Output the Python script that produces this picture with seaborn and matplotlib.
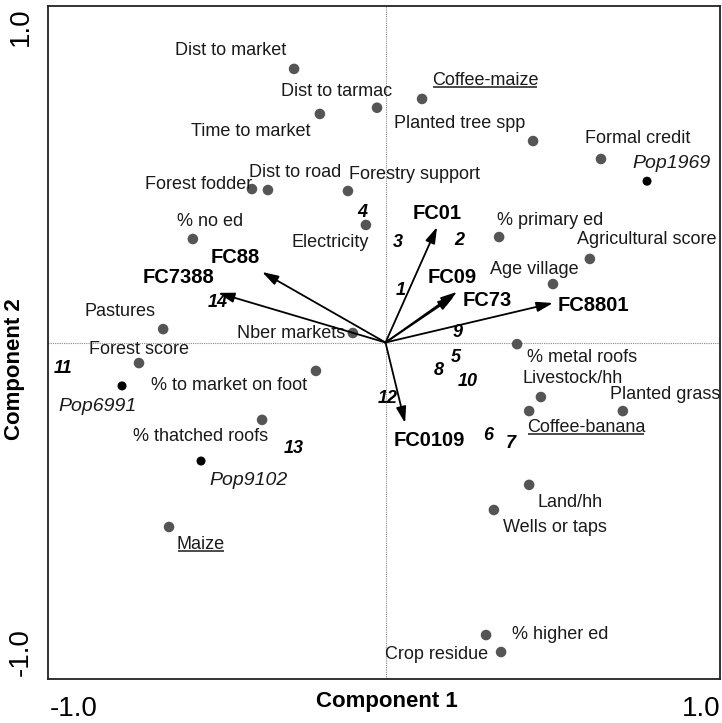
import numpy as np
import pandas as pd
import matplotlib
matplotlib.use("Agg")
import matplotlib.pyplot as plt
from matplotlib.transforms import ScaledTranslation
import seaborn as sns

# Variable loadings on the first two components
var_names = ["Dist to market", "Dist to tarmac", "Time to market", "Coffee-maize",
             "Planted tree spp", "Formal credit", "Forest fodder", "Dist to road",
             "Forestry support", "Electricity", "% no ed", "% primary ed",
             "Agricultural score", "Age village", "Pastures", "Nber markets",
             "Forest score", "% metal roofs", "% to market on foot", "Livestock/hh",
             "Coffee-banana", "Planted grass", "% thatched roofs", "Land/hh",
             "Wells or taps", "Maize", "Crop residue", "% higher ed"]
var_x = [-0.280, -0.026, -0.201, 0.112, 0.452, 0.660, -0.409, -0.360, -0.115, -0.060,
         -0.590, 0.348, 0.626, 0.513, -0.681, -0.100, -0.755, 0.403, -0.213, 0.476,
         0.440, 0.727, -0.378, 0.440, 0.332, -0.663, 0.308, 0.354]
var_y = [0.838, 0.719, 0.700, 0.746, 0.617, 0.562, 0.470, 0.467, 0.464, 0.360,
         0.317, 0.323, 0.256, 0.179, 0.041, 0.029, -0.063, -0.005, -0.087, -0.167,
         -0.210, -0.210, -0.237, -0.436, -0.513, -0.565, -0.896, -0.948]
farm_types = ["Coffee-maize", "Coffee-banana", "Maize"]

# Population-density period centroids
pop_names = ["Pop1969", "Pop6991", "Pop9102"]
pop_x = [0.801, -0.807, -0.565]
pop_y = [0.494, -0.133, -0.363]

# Forest-cover change vectors
fc_names = ["FC01", "FC88", "FC7388", "FC09", "FC73", "FC8801", "FC0109"]
fc_x = [0.158, -0.378, -0.513, 0.219, 0.210, 0.513, 0.060]
fc_y = [0.354, 0.216, 0.152, 0.155, 0.142, 0.121, -0.247]

# Site scores
site_labels = ["1", "2", "3", "4", "5", "6", "7", "8", "9", "10", "11", "12", "13", "14"]
site_x = [0.047, 0.225, 0.038, -0.072, 0.216, 0.314, 0.384, 0.164, 0.222, 0.253,
          -0.988, 0.008, -0.280, -0.513]
site_y = [0.158, 0.311, 0.305, 0.397, -0.047, -0.286, -0.308, -0.087, 0.032, -0.118,
          -0.081, -0.173, -0.326, 0.124]

# Label offsets in pixels (dx, dy upward) from each mark
var_off = {
    "Dist to market": (-63, 18), "Dist to tarmac": (-40, 16), "Time to market": (-69, -18),
    "Coffee-maize": (63, 18), "Planted tree spp": (-73, 18), "Formal credit": (37, 21),
    "Forest fodder": (-53, 5), "Dist to road": (27, 18), "Forestry support": (67, 16),
    "Electricity": (-36, -18), "% no ed": (17, 17), "% primary ed": (51, 17),
    "Agricultural score": (57, 19), "Age village": (-19, 15), "Pastures": (-43, 18),
    "Nber markets": (-62, 0), "Forest score": (0, 14), "% metal roofs": (65, -13),
    "% to market on foot": (-87, -15), "Livestock/hh": (32, 19), "Coffee-banana": (57, -16),
    "Planted grass": (42, 17), "% thatched roofs": (-62, -17), "Land/hh": (41, -18),
    "Wells or taps": (61, -18), "Maize": (32, -18), "Crop residue": (-50, -19),
    "% higher ed": (59, 18),
}
pop_off = {"Pop1969": (25, 18), "Pop6991": (-24, -21), "Pop9102": (48, -19)}
fc_off = {"FC01": (0, 13), "FC88": (-27, 14), "FC7388": (-40, 15), "FC09": (-5, 14),
          "FC73": (33, -4), "FC8801": (40, -3), "FC0109": (24, -17)}

sns.set_theme(style="white")
plt.rcParams["font.family"] = ["Liberation Sans", "DejaVu Sans"]

fig = plt.figure(figsize=(7.22, 7.23), dpi=100)
ax = fig.add_axes([48 / 722, 1 - 679 / 723, 672 / 722, 673 / 723])

ax.set_xlim(-1.0337, 1.0245)
ax.set_ylim(-1.0306, 1.0306)

# reference lines through the origin
ax.axhline(0, color="#888888", lw=0.8, ls=(0, (1, 1)), zorder=0)
ax.axvline(0, color="#888888", lw=0.8, ls=(0, (1, 1)), zorder=0)

df_var = pd.DataFrame({"x": var_x, "y": var_y, "name": var_names})
df_pop = pd.DataFrame({"x": pop_x, "y": pop_y, "name": pop_names})

sns.scatterplot(data=df_var, x="x", y="y", ax=ax, color="#555555", s=58,
                edgecolor="none", zorder=3, legend=False)
sns.scatterplot(data=df_pop, x="x", y="y", ax=ax, color="black", s=42,
                edgecolor="none", zorder=3, legend=False)

txt_color = "#1a1a1a"
underline_texts = []
for name, x, y in zip(var_names, var_x, var_y):
    dx, dy = var_off[name]
    t = ax.annotate(name, (x, y), xytext=(dx, dy), textcoords="offset pixels",
                    ha="center", va="center", fontsize=13, color=txt_color)
    if name in farm_types:
        underline_texts.append(t)

for name, x, y in zip(pop_names, pop_x, pop_y):
    dx, dy = pop_off[name]
    ax.annotate(name, (x, y), xytext=(dx, dy), textcoords="offset pixels",
                ha="center", va="center", fontsize=14, style="italic", color=txt_color)

for name, x, y in zip(fc_names, fc_x, fc_y):
    ax.annotate("", xy=(x, y), xytext=(0, 0),
                arrowprops=dict(arrowstyle="-|>,head_length=0.65,head_width=0.2",
                                mutation_scale=15, lw=1.3, color="black",
                                shrinkA=0, shrinkB=0), zorder=4)
    dx, dy = fc_off[name]
    ax.annotate(name, (x, y), xytext=(dx, dy), textcoords="offset pixels",
                ha="center", va="center", fontsize=14.5, fontweight="bold", color="black")

for lab, x, y in zip(site_labels, site_x, site_y):
    ax.text(x, y, lab, ha="center", va="center", fontsize=13,
            fontweight="bold", style="italic", color="black")

# axes frame and ticks
for sp in ax.spines.values():
    sp.set_visible(True)
    sp.set_color("#222222")
    sp.set_linewidth(1.3)

ax.set_xticks([-1.0, 1.0])
ax.set_xticklabels(["-1.0", "1.0"], fontsize=20, color="black")
ax.set_yticks([-1.0, 1.0])
ax.set_yticklabels(["-1.0", "1.0"], fontsize=20, rotation=90, va="center", ha="center",
                   color="black")
ax.tick_params(axis="both", direction="inout", length=5, width=1, color="#222222")
ax.tick_params(axis="x", pad=10)
ax.tick_params(axis="y", pad=17)
ax.set_xlabel("")
ax.set_ylabel("")

for lbl, dx in zip(ax.get_xticklabels(), [15, -11]):
    lbl.set_transform(lbl.get_transform() + ScaledTranslation(dx / 100, 0, fig.dpi_scale_trans))
for lbl, dy in zip(ax.get_yticklabels(), [17, -11]):
    lbl.set_transform(lbl.get_transform() + ScaledTranslation(0, dy / 100, fig.dpi_scale_trans))

fig.text(387 / 722, 1 - 701 / 723, "Component 1", ha="center", va="center",
         fontsize=16, fontweight="bold", color="black")
fig.text(15 / 722, 1 - 369 / 723, "Component 2", ha="center", va="center",
         fontsize=16, fontweight="bold", rotation=90, color="black")

# underline the farming-system labels
fig.canvas.draw()
renderer = fig.canvas.get_renderer()
inv = ax.transData.inverted()
for t in underline_texts:
    bb = t.get_window_extent(renderer)
    y_line = bb.y0 + 2
    (x0, yl), (x1, _) = inv.transform([(bb.x0 + 1, y_line), (bb.x1 - 1, y_line)])
    ax.plot([x0, x1], [yl, yl], color=txt_color, lw=1.1, solid_capstyle="butt")

fig.savefig("out.png", dpi=100)
